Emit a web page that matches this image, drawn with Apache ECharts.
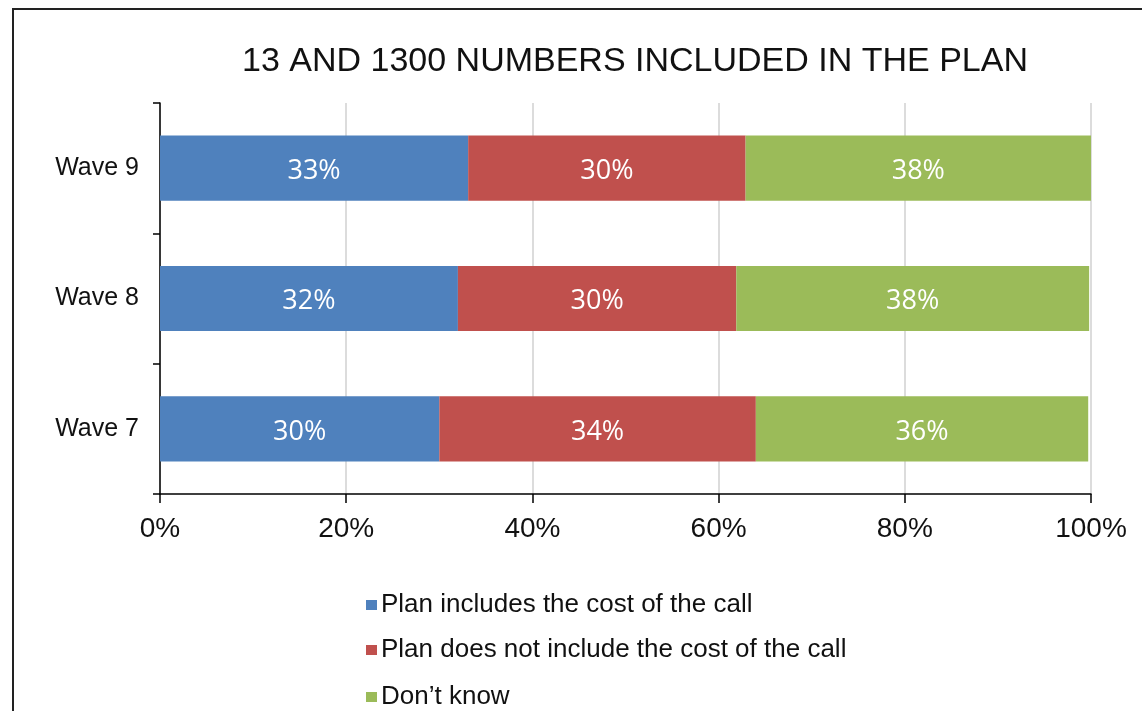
<!DOCTYPE html>
<html>
<head>
<meta charset="utf-8">
<script src="https://cdn.jsdelivr.net/npm/echarts@6/dist/echarts.min.js"></script>
<style>
  html, body { margin: 0; padding: 0; background: #fff; overflow: hidden; }
  #frame { position: absolute; left: 12px; top: 8px; width: 1200px; height: 760px; border: 2px solid #222; box-sizing: border-box; }
  #chart { position: absolute; left: 0; top: 0; width: 1142px; height: 711px; }
</style>
</head>
<body>
<div id="frame"></div>
<div id="chart"></div>
<script>
var categories = ['Wave 7', 'Wave 8', 'Wave 9']
var seriesNames = ['Plan includes the cost of the call', 'Plan does not include the cost of the call', 'Don\u2019t know']
var includesValues = [30.0, 32.0, 33.1]
var notIncludesValues = [34.0, 29.9, 29.8]
var dontKnowValues = [35.7, 37.9, 37.1]
var includesLabels = ['30%', '32%', '33%']
var notIncludesLabels = ['34%', '30%', '30%']
var dontKnowLabels = ['36%', '38%', '38%']
var xTicks = [0, 20, 40, 60, 80, 100]

var colors = ['#4F81BD', '#C0504D', '#9BBB59']
var legendTops = [587, 632, 679]

var chart = echarts.init(document.getElementById('chart'))

function makeSeries(name, values, labels, color) {
  return {
    name: name,
    type: 'bar',
    stack: 'total',
    barWidth: '50%',
    data: values,
    itemStyle: { color: color },
    label: {
      show: true,
      position: 'inside',
      offset: [0, 3],
      color: '#fff',
      fontSize: 27,
      fontFamily: 'Open Sans',
      formatter: function (p) { return labels[p.dataIndex] }
    }
  }
}

// one legend per row, so the list does not wrap into columns
var legends = seriesNames.map(function (name, i) {
  return {
    orient: 'vertical',
    left: 361,
    top: legendTops[i],
    itemWidth: 11,
    itemHeight: 10,
    itemGap: 4,
    icon: 'rect',
    textStyle: {
      fontFamily: 'Liberation Sans',
      fontSize: 26,
      color: '#111',
      padding: [0, 0, 0, -1]
    },
    data: [name]
  }
})

chart.setOption({
  animation: false,
  title: {
    text: '13 AND 1300 NUMBERS INCLUDED IN THE PLAN',
    left: 237,
    top: 40,
    textStyle: {
      fontFamily: 'Liberation Sans',
      fontSize: 34,
      fontWeight: 'normal',
      color: '#111'
    }
  },
  grid: {
    left: 160,
    right: 51,
    top: 103,
    bottom: 217
  },
  legend: legends,
  xAxis: {
    type: 'value',
    min: 0,
    max: 100,
    interval: 20,
    axisLine: { show: true, lineStyle: { color: '#000', width: 1.5 } },
    axisTick: { show: true, length: 9, lineStyle: { color: '#000', width: 1.5 } },
    splitLine: { show: true, lineStyle: { color: '#d0d0d0', width: 1.5 } },
    axisLabel: {
      fontFamily: 'Liberation Sans',
      fontSize: 28,
      color: '#111',
      margin: 21,
      formatter: function (v) { return xTicks.indexOf(v) >= 0 ? v + '%' : '' }
    }
  },
  yAxis: {
    type: 'category',
    data: categories,
    axisLine: { show: true, lineStyle: { color: '#000', width: 1.5 } },
    axisTick: { show: true, length: 7, lineStyle: { color: '#000', width: 1.5 } },
    axisLabel: {
      fontFamily: 'Liberation Sans',
      fontSize: 25,
      color: '#111',
      margin: 21
    }
  },
  series: [
    makeSeries(seriesNames[0], includesValues, includesLabels, colors[0]),
    makeSeries(seriesNames[1], notIncludesValues, notIncludesLabels, colors[1]),
    makeSeries(seriesNames[2], dontKnowValues, dontKnowLabels, colors[2])
  ]
})
</script>
</body>
</html>
